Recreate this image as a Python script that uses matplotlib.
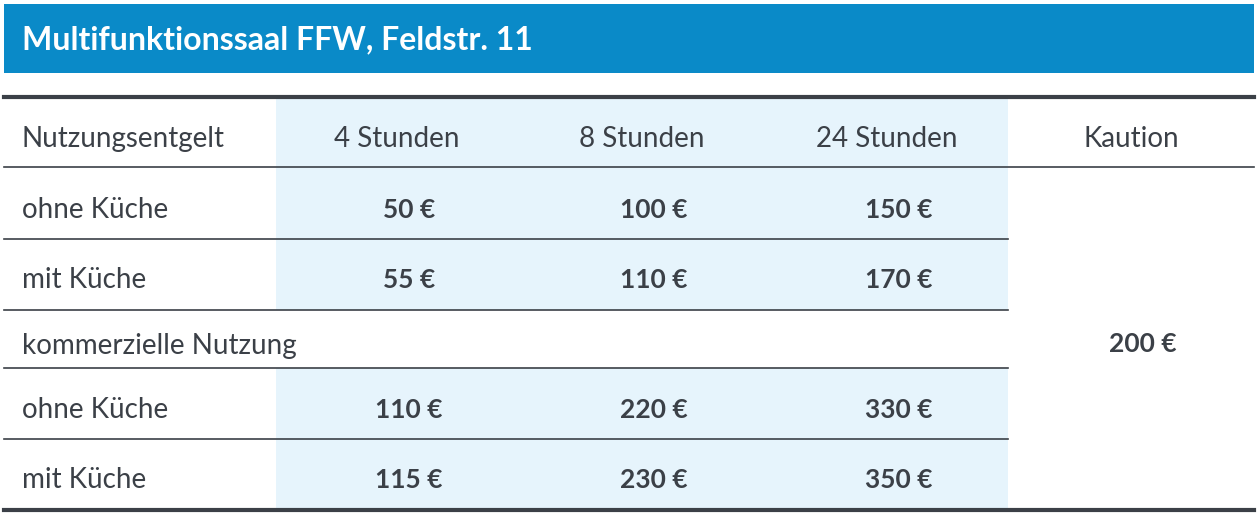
import matplotlib.pyplot as plt
from matplotlib.patches import Rectangle

titel = "Multifunktionssaal FFW, Feldstr. 11"
spalten = ["4 Stunden", "8 Stunden", "24 Stunden"]
zeilen = ["ohne Küche", "mit Küche", "kommerzielle Nutzung", "ohne Küche", "mit Küche"]
preise = [["50 €", "100 €", "150 €"],
          ["55 €", "110 €", "170 €"],
          None,
          ["110 €", "220 €", "330 €"],
          ["115 €", "230 €", "350 €"]]
kaution = "200 €"

W, H = 1258, 518
blau = "#0a8ac8"
hell = "#e6f4fc"
dunkel = "#3b4047"
plt.rcParams['font.family'] = ['Lato', 'DejaVu Sans']

fig = plt.figure(figsize=(W / 100, H / 100), dpi=100)
ax = fig.add_axes([0, 0, 1, 1])
ax.set_xlim(0, W)
ax.set_ylim(H, 0)
ax.axis('off')

# Titelbalken
ax.add_patch(Rectangle((4, 4), 1250, 69, color=blau, lw=0))
ax.text(22, 40, titel, color="white", fontsize=23, fontweight="bold", va="center")

# hellblaue Spalten
grenzen = [99, 167, 239, 310, 368, 439, 510]
for i in range(len(grenzen) - 1):
    if i == 3:
        continue
    ax.add_patch(Rectangle((276, grenzen[i]), 732, grenzen[i + 1] - grenzen[i], color=hell, lw=0))

# Linien
ax.plot([4, 1254], [97, 97], color=dunkel, lw=3)
ax.plot([4, 1254], [167, 167], color=dunkel, lw=1.2)
for y in grenzen[2:-1]:
    ax.plot([4, 1008], [y, y], color=dunkel, lw=1.2)
ax.plot([4, 1254], [510, 510], color=dunkel, lw=3)

xs = [397, 642, 887]
ax.text(22, 139, "Nutzungsentgelt", color=dunkel, fontsize=20, va="center")
for x, s in zip(xs, spalten):
    ax.text(x, 139, s, color=dunkel, fontsize=20, va="center", ha="center")
ax.text(1131, 139, "Kaution", color=dunkel, fontsize=20, va="center", ha="center")

ymitte = [210, 280, 346, 410, 480]
for y, z, p in zip(ymitte, zeilen, preise):
    ax.text(22, y, z, color=dunkel, fontsize=20, va="center")
    if p:
        for x, v in zip(xs, p):
            ax.text(x + 12, y, v, color=dunkel, fontsize=19, fontweight="bold", va="center", ha="center")
ax.text(1143, 344, kaution, color=dunkel, fontsize=19, fontweight="bold", va="center", ha="center")

fig.savefig("out.png", dpi=100)
